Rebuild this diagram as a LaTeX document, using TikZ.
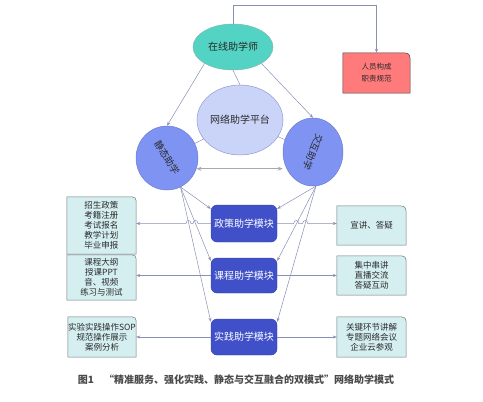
\documentclass[tikz,border=0pt]{standalone}
\usepackage{fontspec}
\setmainfont{Noto Sans CJK SC}
\usetikzlibrary{arrows.meta,calc,shapes.geometric,backgrounds}
\definecolor{tealC}{HTML}{52D3C3}
\definecolor{tealB}{HTML}{7FB8B0}
\definecolor{redC}{HTML}{FF7B7B}
\definecolor{platC}{HTML}{CAD4F8}
\definecolor{platB}{HTML}{8E9BD0}
\definecolor{circC}{HTML}{7F93F2}
\definecolor{circB}{HTML}{6C7CD0}
\definecolor{modC}{HTML}{3F50C8}
\definecolor{boxC}{HTML}{D5EFF1}
\definecolor{boxB}{HTML}{6E7478}
\definecolor{lineC}{HTML}{8A90B4}
\definecolor{dblC}{HTML}{A6A8B4}
\definecolor{txtC}{HTML}{2A2A2A}
\newcommand\cornershape[3]{%
  \filldraw[#3] (#1.south west) -- (#1.north west) -- ($(#1.north east)+(-#2,0)$)
    .. controls (#1.north east) .. ($(#1.north east)+(0,#2)$) -- (#1.south east) -- cycle;}
\begin{document}
\begin{tikzpicture}[x=1pt,y=-1pt,
  ell/.style={ellipse,inner sep=0pt,font=\fontsize{10}{12}\selectfont,text=txtC},
  modbox/.style={rectangle,rounded corners=6pt,fill=modC,draw=modC!80!black,line width=0.4pt,
    minimum width=66pt,text=white,font=\fontsize{10}{12}\selectfont,inner sep=0pt},
  txtbox/.style={rectangle,minimum width=69pt,inner sep=0pt,align=center,text=txtC,
    font=\fontsize{8.5}{10}\selectfont},
  boxfill/.style={fill=boxC,draw=boxB,line width=0.5pt},
  con/.style={draw=lineC,line width=0.5pt,-{Stealth[length=4pt,width=3pt]}},
  plain/.style={draw=lineC,line width=0.5pt},
  dbl/.style={draw=dblC,line width=1.3pt,{Stealth[length=5pt,width=4pt]}-{Stealth[length=5pt,width=4pt]}},
  circtext/.style={font=\fontsize{9.5}{10}\selectfont,text=txtC,inner sep=0pt}]
\useasboundingbox (0,0) rectangle (483,402);

% main nodes
\node[ell,fill=tealC,draw=tealB,line width=0.5pt,minimum width=80pt,minimum height=46pt] (top) at (233,47) {在线助学师};
\node[ell,fill=platC,draw=platB,line width=0.5pt,minimum width=86pt,minimum height=70pt] (plat) at (240,120) {网络助学平台};
\node[ell,fill=circC,draw=circB,line width=0.5pt,minimum width=62pt,minimum height=64pt] (lc) at (167,158) {};
\node[circtext,rotate=-58] (lct) at (lc) {静态助学};
\node[ell,fill=circC,draw=circB,line width=0.5pt,minimum width=60pt,minimum height=68pt] (rc) at (313,152) {};
\node[circtext,rotate=-112] (rct) at (rc) {交互助学};

% red box
\node[txtbox,minimum width=67pt,minimum height=40pt,font=\fontsize{7.5}{12}\selectfont] (rb) at (376.5,73) {人员构成\\职责规范};

% modules
\node[modbox,minimum height=37pt] (m1) at (244,223.5) {政策助学模块};
\node[modbox,minimum height=35pt] (m2) at (244,275.5) {课程助学模块};
\node[modbox,minimum height=36pt] (m3) at (244,337) {实践助学模块};

% left boxes
\node[txtbox,minimum height=57pt] (l1) at (101.5,225.5) {招生政策\\考籍注册\\考试报名\\教学计划\\毕业申报};
\node[txtbox,minimum height=45pt] (l2) at (101.5,277.5) {课程大纲\\授课PPT\\音、视频\\练习与测试};
\node[txtbox,minimum width=68pt,minimum height=40pt] (l3) at (102,337) {实验实践操作SOP\\规范操作展示\\案例分析};

% right boxes
\node[txtbox,minimum height=39pt] (r1) at (371.5,225.5) {宣讲、答疑};
\node[txtbox,minimum height=39pt] (r2) at (371.5,275.5) {集中串讲\\直播交流\\答疑互动};
\node[txtbox,minimum height=40pt] (r3) at (371.5,337) {关键环节讲解\\专题网络会议\\企业云参观};

% caption
\node[font=\fontsize{10}{12}\selectfont\bfseries,text=txtC!85!white] (cap) at (236,380)
  {图1\quad “精准服务、强化实践、静态与交互融合的双模式”网络助学模式};

% shapes with one rounded corner
\begin{scope}[on background layer]
\cornershape{rb}{12}{fill=redC,draw=black!75,line width=0.5pt}
\cornershape{l1}{9}{boxfill}
\cornershape{l2}{9}{boxfill}
\cornershape{l3}{9}{boxfill}
\cornershape{r1}{12}{boxfill}
\cornershape{r2}{10}{boxfill}
\cornershape{r3}{10}{boxfill}
\end{scope}

% connectors
\draw[con] (top.north) |- ($(rb.north)+(0,-48)$) -- (rb.north);
\draw[con] (top.south west) -- (lc.north);
\draw[con] (top.south east) -- (rc.north);
\draw[plain] (top.south) -- (plat.north);
\draw[plain] (plat) -- (lc);
\draw[plain] (plat) -- (rc);
\draw[dbl] (lc.-20) -- (lc.-20 -| rc.west);

\draw[con] (lc.-65) -- ($(m1.north west)+(0,4)$);
\draw[con] (lc.-65) -- ($(m2.north west)+(0,3)$);
\draw[con] (lc.-65) -- ($(m3.north west)+(0,3)$);
\draw[con] (rc.-85) -- ($(m1.north east)+(0,4)$);
\draw[con] (rc.-85) -- ($(m2.north east)+(0,3)$);
\draw[con] (rc.-85) -- ($(m3.north east)+(0,3)$);

\draw[con] (m1.west) -- (198,223.5) .. controls (198,219.5) and (193,219.5) .. (193,223.5)
  -- (191,223.5) .. controls (191,219.5) and (186,219.5) .. (186,223.5) -- (m1.west -| l1.east);
\draw[con] (m1.east) -- (293.7,223.5) .. controls (293.7,219.5) and (298.7,219.5) .. (298.7,223.5)
  -- (302.7,223.5) .. controls (302.7,219.5) and (307.7,219.5) .. (307.7,223.5) -- (m1.east -| r1.west);
\draw[con] (m2.west) -- (m2.west -| l2.east);
\draw[con] (m2.east) -- (m2.east -| r2.west);
\draw[con] (m3.west) -- (m3.west -| l3.east);
\draw[con] (m3.east) -- (m3.east -| r3.west);
\end{tikzpicture}
\end{document}
